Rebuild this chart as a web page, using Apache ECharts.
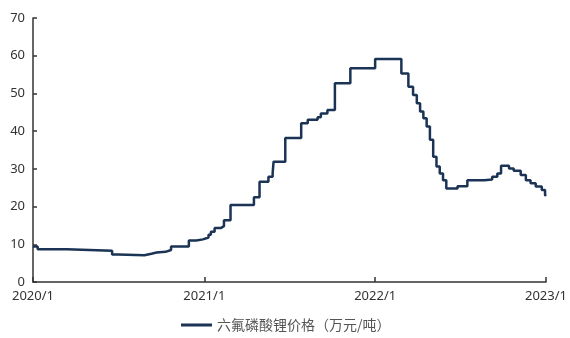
<!DOCTYPE html>
<html>
<head>
<meta charset="utf-8">
<script src="https://cdn.jsdelivr.net/npm/echarts@6/dist/echarts.min.js"></script>
<style>
  html, body { margin: 0; padding: 0; background: #fff; }
  #charts { width: 570px; height: 338px; }
</style>
</head>
<body>
<div id="charts"></div>
<script>
// price change dates (value holds until the next date)
let dates = [
  "2020-01-01", "2020-01-11", "2020-03-13", "2020-04-30", "2020-06-18",
  "2020-07-01", "2020-08-26", "2020-09-10", "2020-09-21", "2020-10-10",
  "2020-10-22", "2020-11-29", "2020-12-15", "2020-12-29", "2021-01-10",
  "2021-01-15", "2021-01-23", "2021-02-05", "2021-02-12", "2021-02-26",
  "2021-04-17", "2021-04-29", "2021-05-18", "2021-05-27", "2021-05-29",
  "2021-06-23", "2021-07-27", "2021-08-10", "2021-08-31", "2021-09-07",
  "2021-09-21", "2021-10-07", "2021-11-09", "2022-01-01", "2022-02-26",
  "2022-03-13", "2022-03-23", "2022-03-31", "2022-04-07", "2022-04-14",
  "2022-04-21", "2022-04-28", "2022-05-05", "2022-05-12", "2022-05-19",
  "2022-05-26", "2022-06-02", "2022-06-26", "2022-07-17", "2022-08-22",
  "2022-09-08", "2022-09-19", "2022-09-27", "2022-10-14", "2022-10-24",
  "2022-11-08", "2022-11-19", "2022-11-29", "2022-12-10", "2022-12-23",
  "2022-12-30", "2023-01-01"
];
let prices = [
  9.4, 8.7, 8.5, 8.3, 7.3,
  7.1, 7.5, 7.8, 8.0, 8.5,
  9.4, 11.0, 11.3, 11.8, 12.5,
  13.3, 14.3, 14.8, 16.4, 20.4,
  22.5, 26.6, 27.9, 28.9, 31.9,
  38.2, 42.1, 43.0, 43.7, 44.7,
  45.6, 52.7, 56.7, 59.1, 55.3,
  51.8, 49.6, 47.4, 45.2, 43.4,
  41.2, 37.7, 33.2, 30.6, 28.8,
  27.0, 24.8, 25.4, 27.0, 27.2,
  27.9, 28.8, 30.8, 30.1, 29.5,
  28.4, 27.0, 26.2, 25.3, 24.4,
  23.1, 22.8
];
let xTicks = ["2020-01-01", "2021-01-01", "2022-01-01", "2023-01-01"];
let seriesName = "六氟磷酸锂价格（万元/吨）";

function toTime(d) {
  return new Date(d + "T00:00:00").getTime();
}

let chartDom = document.getElementById("charts");
let myChart = echarts.init(chartDom);
let tickTimes = xTicks.map(toTime);
let option;

option = {
  animation: false,
  textStyle: {
    fontFamily: "'Noto Sans', 'Noto Sans CJK SC', sans-serif",
  },
  grid: {
    left: 33,
    right: 18,
    top: 18,
    bottom: 56,
    containLabel: false,
  },
  legend: {
    bottom: 1,
    left: 176,
    icon: "rect",
    itemWidth: 31,
    itemHeight: 3,
    itemGap: 4,
    textStyle: {
      color: "#555",
      fontSize: 14,
      fontFamily: "'Noto Sans CJK SC', sans-serif",
    },
    data: [seriesName],
  },
  xAxis: {
    type: "value",
    min: tickTimes[0],
    max: tickTimes[tickTimes.length - 1],
    axisLine: {
      show: true,
      lineStyle: { color: "#333", width: 1.5 },
    },
    axisTick: {
      show: true,
      inside: true,
      length: 5,
      customValues: tickTimes,
      lineStyle: { color: "#333", width: 1.5 },
    },
    axisLabel: {
      color: "#333",
      fontSize: 13,
      margin: 8,
      customValues: tickTimes,
      showMinLabel: true,
      showMaxLabel: true,
      formatter: function (v) {
        let d = new Date(v);
        return d.getFullYear() + "/" + (d.getMonth() + 1);
      },
    },
    splitLine: { show: false },
  },
  yAxis: {
    type: "value",
    min: 0,
    max: 70,
    interval: 10,
    axisLine: {
      show: true,
      lineStyle: { color: "#333", width: 1.5 },
    },
    axisTick: {
      show: true,
      inside: true,
      length: 4,
      lineStyle: { color: "#333", width: 1.5 },
    },
    axisLabel: {
      color: "#333",
      fontSize: 13,
      margin: 8,
    },
    splitLine: { show: false },
  },
  series: [
    {
      name: seriesName,
      type: "line",
      step: "end",
      symbol: "none",
      lineStyle: { color: "#1b3354", width: 2.5 },
      itemStyle: { color: "#1b3354" },
      data: dates.map(function (d, i) { return [toTime(d), prices[i]]; }),
    },
  ],
};

option && myChart.setOption(option);
</script>
</body>
</html>
